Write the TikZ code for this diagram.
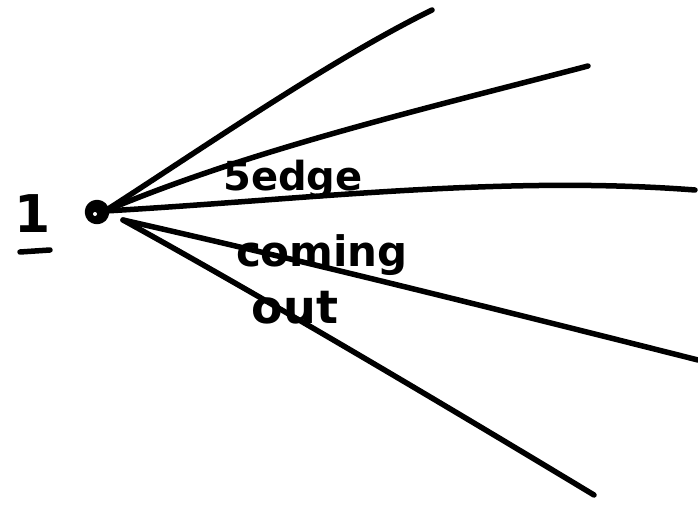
\documentclass[tikz,border=0pt]{standalone}
\usepackage{fontspec}
\setmainfont{DejaVu Sans}
\begin{document}
\begin{tikzpicture}[x=1pt,y=-1pt,
  stroke/.style={line width=5.5pt,line cap=round,line join=round,black},
  hand/.style={font=\fontsize{40}{40}\selectfont\bfseries,inner sep=0pt}]
\useasboundingbox (0,0) rectangle (698,508);
\draw[stroke,fill=black] (97,212) circle (9.5);
\fill[white] (95,214) circle (2);
\coordinate (v) at (105,211);
\coordinate (w) at (123,220);
\coordinate (e1) at (432,10);
\coordinate (e2) at (588,66);
\coordinate (e3) at (695,190);
\coordinate (e4) at (698,360);
\coordinate (e5) at (594,495);
\draw[stroke] (v) .. controls (200,150) and (330,60) .. (e1);
\draw[stroke] (v) .. controls (250,150) and (420,110) .. (e2);
\draw[stroke] (v) .. controls (300,200) and (500,175) .. (e3);
\draw[stroke] (w) .. controls (300,260) and (500,310) .. (e4);
\draw[stroke] (w) .. controls (250,290) and (420,390) .. (e5);
\node[hand,font=\fontsize{52}{52}\selectfont\bfseries] (one) at (33,214) {1};
\draw[stroke] (20,252) -- (50,250);
\node[hand] (t1) at (293,180) {5edge};
\node[hand,font=\fontsize{42}{42}\selectfont\bfseries] (t2) at (322,255) {coming};
\node[hand,font=\fontsize{46}{46}\selectfont\bfseries] (t3) at (295,308) {out};
\end{tikzpicture}
\end{document}
